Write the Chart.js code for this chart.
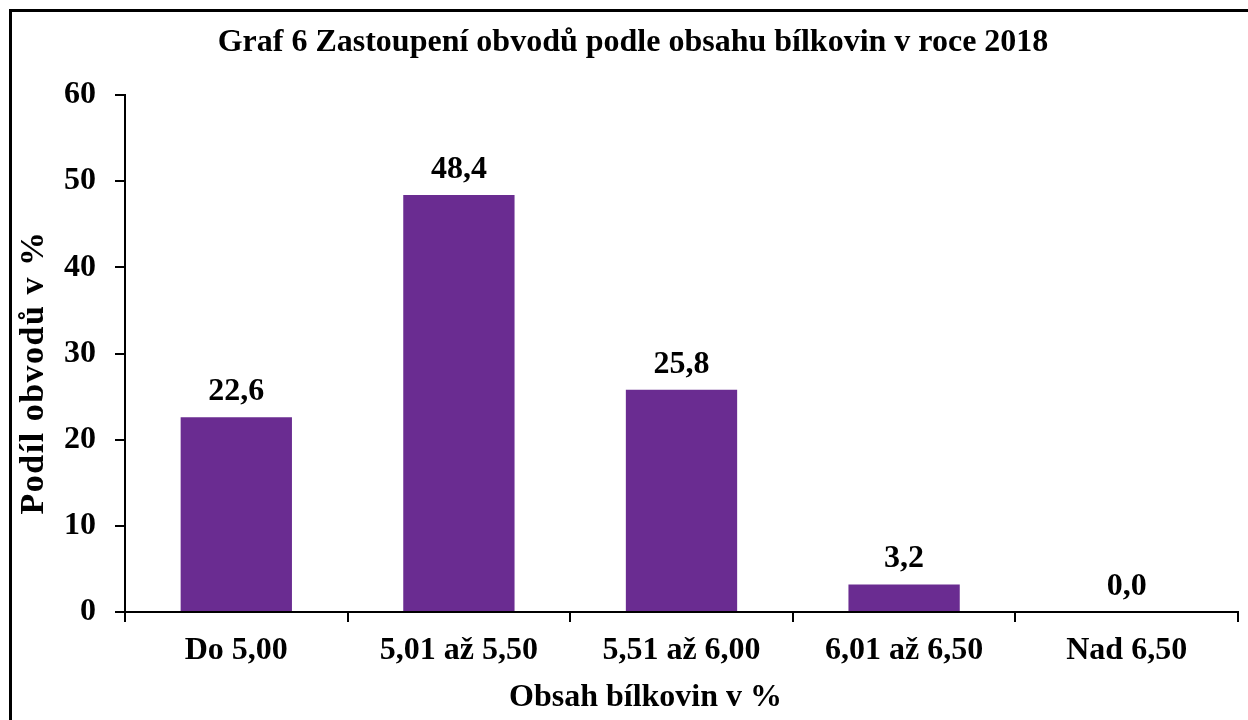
<!DOCTYPE html>
<html>
<head>
<meta charset="utf-8">
<title>Graf 6</title>
<script src="https://cdn.jsdelivr.net/npm/chart.js@4/dist/chart.umd.min.js"></script>
<style>
    body { margin: 0; background: #fff; overflow: hidden; }
    .wrap { position: relative; width: 1248px; height: 720px; }
    .frame {
        position: absolute; left: 9px; top: 9px; width: 1400px; height: 900px;
        border-left: 3px solid #000; border-top: 3px solid #000;
    }
    #chart { position: absolute; left: 0; top: 0; }
</style>
</head>
<body>
<div class="wrap">
    <div class="frame"></div>
    <canvas id="chart" width="1248" height="720"></canvas>
</div>
<script>
// ---- Data ----
const categories = ['Do 5,00', '5,01 až 5,50', '5,51 až 6,00', '6,01 až 6,50', 'Nad 6,50'];
const shares = [22.6, 48.4, 25.8, 3.2, 0.0];
const yTicks = [0, 10, 20, 30, 40, 50, 60];

const chartTitle = 'Graf 6 Zastoupení obvodů podle obsahu bílkovin v roce 2018';
const xTitle = 'Obsah bílkovin v %';
const yTitle = 'Podíl obvodů v %';

const serif = "'Liberation Serif', 'Times New Roman', serif";
const boldFont = { family: serif, size: 32, weight: 'bold' };

// Value labels above the bars (decimal comma)
const barLabels = {
    id: 'barLabels',
    afterDatasetsDraw(chart) {
        const ctx = chart.ctx;
        const meta = chart.getDatasetMeta(0);
        ctx.save();
        ctx.font = 'bold 32px ' + serif;
        ctx.fillStyle = '#000';
        ctx.textAlign = 'center';
        ctx.textBaseline = 'alphabetic';
        meta.data.forEach((bar, i) => {
            const txt = shares[i].toFixed(1).replace('.', ',');
            ctx.fillText(txt, bar.x, bar.y - 17);
        });
        ctx.restore();
    }
};

// Rotated y axis title, a bit longer than the other texts like in the original
const yAxisTitle = {
    id: 'yAxisTitle',
    afterDraw(chart) {
        const ctx = chart.ctx;
        const area = chart.chartArea;
        ctx.save();
        ctx.font = 'bold 34px ' + serif;
        ctx.fillStyle = '#000';
        ctx.letterSpacing = '1.5px';
        ctx.textAlign = 'center';
        ctx.textBaseline = 'middle';
        ctx.translate(34, (area.top + area.bottom) / 2 + 19);
        ctx.rotate(-Math.PI / 2);
        ctx.fillText(yTitle, 0, 0);
        ctx.restore();
    }
};

document.addEventListener('DOMContentLoaded', function() {
    const ctx = document.getElementById('chart').getContext('2d');
    new Chart(ctx, {
        type: 'bar',
        data: {
            labels: categories,
            datasets: [{
                data: shares,
                backgroundColor: '#6a2c91',
                borderWidth: 0,
                barPercentage: 0.5,
                categoryPercentage: 1.0
            }]
        },
        options: {
            responsive: false,
            devicePixelRatio: 1,
            animation: false,
            layout: { padding: { left: 28, right: 10, top: 0, bottom: 0 } },
            plugins: {
                legend: { display: false },
                tooltip: { enabled: false },
                title: {
                    display: true,
                    text: chartTitle,
                    color: '#000',
                    font: boldFont,
                    padding: { top: 23.5, bottom: 33.1 }
                }
            },
            scales: {
                x: {
                    offset: true,
                    afterFit: function(scale) { scale.height = 108; },
                    grid: {
                        offset: true,
                        drawOnChartArea: false,
                        drawTicks: true,
                        tickLength: 10,
                        color: '#000',
                        lineWidth: 2
                    },
                    border: { color: '#000', width: 2 },
                    ticks: { color: '#000', font: boldFont, padding: 10, maxRotation: 0 },
                    title: {
                        display: true,
                        // trailing spaces pull the centred title a bit to the left, like the original
                        text: xTitle + '         ',
                        color: '#000',
                        font: boldFont,
                        padding: { top: 0, bottom: 3.3 }
                    }
                },
                y: {
                    min: yTicks[0],
                    max: yTicks[yTicks.length - 1],
                    afterFit: function(scale) { scale.width = 97; },
                    afterBuildTicks: function(scale) {
                        scale.ticks = yTicks.map(v => ({ value: v }));
                    },
                    grid: {
                        drawOnChartArea: false,
                        drawTicks: true,
                        tickLength: 10,
                        color: '#000',
                        lineWidth: 2
                    },
                    border: { color: '#000', width: 2 },
                    ticks: { color: '#000', font: boldFont, padding: 19 },
                    title: { display: false }
                }
            }
        },
        plugins: [barLabels, yAxisTitle]
    });
});
</script>
</body>
</html>
